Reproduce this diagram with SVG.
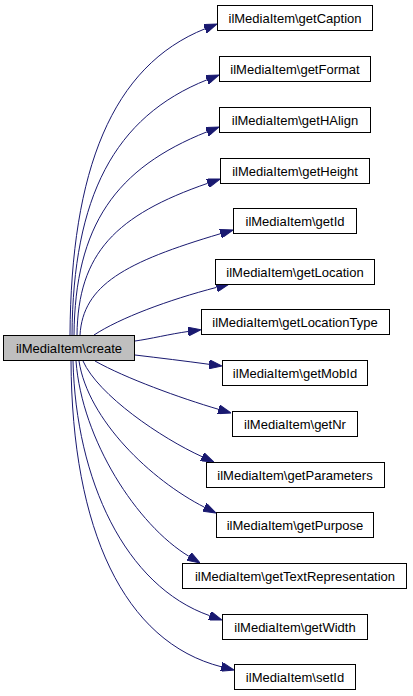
<svg xmlns="http://www.w3.org/2000/svg" width="413" height="696" viewBox="0 0 413 696">
<defs>
<marker id="ah" viewBox="0 0 13 9" refX="0" refY="4.5" markerWidth="13" markerHeight="9" markerUnits="userSpaceOnUse" orient="auto">
<polygon points="0,0 13,4.5 0,9" fill="#191970" stroke="#191970" stroke-width="1"/>
</marker>
</defs>
<style>
.n rect{fill:#ffffff;stroke:#000000;stroke-width:1}
#root rect{fill:#bfbfbf}
.n text{font-family:"Liberation Sans",Arial,sans-serif;font-size:13px;fill:#000000;text-anchor:middle}
.e path{fill:none;stroke:#191970;stroke-width:1;marker-end:url(#ah)}
</style>
<rect width="413" height="696" fill="#ffffff"/>
<g id="edges" class="e">
<path d="M70,335 C71,170 112,66 205,28.8"/>
<path d="M72,335 C73,197 114,117 207,79.8"/>
<path d="M74,335 C75,225 116,168 207,131.8"/>
<path d="M77,335 C78,253 116,215 207.7,183.3"/>
<path d="M80,335 C83,285 125,262 220.5,233.7"/>
<path d="M94,335 C120,318 168,300 216.5,287.4"/>
<path d="M135,341 C150,339 170,334 188.1,331.5"/>
<path d="M135,355 C160,358 185,361 209.1,364.3"/>
<path d="M95,361 C125,378 180,398 218.5,409.3"/>
<path d="M83,361 C98,395 161,438 202.1,456.7"/>
<path d="M79,361 C88,420 151,480 204.4,507.2"/>
<path d="M76,361 C82,440 137,525 188.9,556.3"/>
<path d="M73,361 C76,480 125,586 209.7,615.7"/>
<path d="M71,361 C72,530 124,642 221.4,666.8"/>
</g>
<g id="root" class="n"><rect x="3.5" y="335.5" width="131" height="25"/><text x="69" y="352.5">ilMediaItem\create</text></g>
<g id="n1" class="n"><rect x="217.5" y="5.5" width="155" height="25"/><text x="295" y="22.5">ilMediaItem\getCaption</text></g>
<g id="n2" class="n"><rect x="219.5" y="56.5" width="151" height="25"/><text x="295" y="73.5">ilMediaItem\getFormat</text></g>
<g id="n3" class="n"><rect x="219.5" y="107.5" width="151" height="25"/><text x="295" y="124.5">ilMediaItem\getHAlign</text></g>
<g id="n4" class="n"><rect x="220.5" y="158.5" width="149" height="25"/><text x="295" y="175.5">ilMediaItem\getHeight</text></g>
<g id="n5" class="n"><rect x="233.5" y="208.5" width="123" height="25"/><text x="295" y="225.5">ilMediaItem\getId</text></g>
<g id="n6" class="n"><rect x="215.5" y="259.5" width="159" height="25"/><text x="295" y="276.5">ilMediaItem\getLocation</text></g>
<g id="n7" class="n"><rect x="201.5" y="309.5" width="188" height="25"/><text x="295" y="326.5">ilMediaItem\getLocationType</text></g>
<g id="n8" class="n"><rect x="222.5" y="360.5" width="145" height="25"/><text x="295" y="377.5">ilMediaItem\getMobId</text></g>
<g id="n9" class="n"><rect x="232.5" y="411.5" width="125" height="25"/><text x="295" y="428.5">ilMediaItem\getNr</text></g>
<g id="n10" class="n"><rect x="206.5" y="462.5" width="178" height="25"/><text x="295" y="479.5">ilMediaItem\getParameters</text></g>
<g id="n11" class="n"><rect x="216.5" y="512.5" width="157" height="25"/><text x="295" y="529.5">ilMediaItem\getPurpose</text></g>
<g id="n12" class="n"><rect x="182.5" y="563.5" width="224" height="25"/><text x="295" y="580.5">ilMediaItem\getTextRepresentation</text></g>
<g id="n13" class="n"><rect x="222.5" y="614.5" width="145" height="25"/><text x="295" y="631.5">ilMediaItem\getWidth</text></g>
<g id="n14" class="n"><rect x="234.5" y="664.5" width="121" height="25"/><text x="295" y="681.5">ilMediaItem\setId</text></g>
</svg>
